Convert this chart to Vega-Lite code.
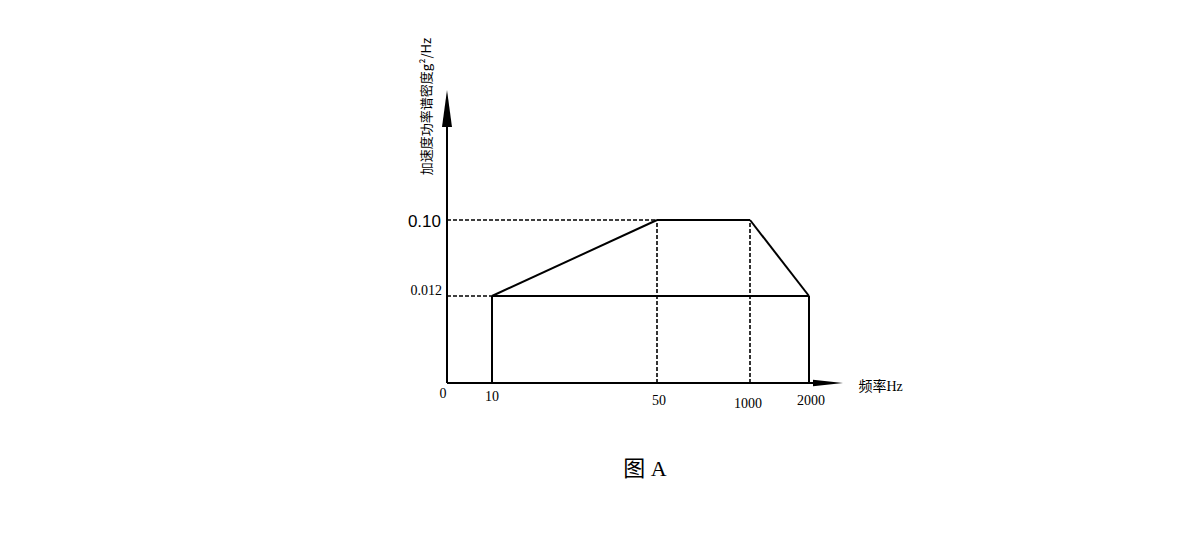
{
  "$schema": "https://vega.github.io/schema/vega-lite/v6.json",
  "width": 396,
  "height": 293,
  "autosize": {"type": "none"},
  "padding": {"left": 447, "top": 90, "right": 357, "bottom": 160},
  "background": "white",
  "config": {"view": {"stroke": null}},
  "title": {"text": "图 A", "orient": "bottom", "offset": 48, "fontSize": 22, "font": "Liberation Serif, Noto Sans CJK SC", "fontWeight": "normal", "color": "#000", "anchor": "middle"},
  "datasets": {
    "segs": [
      {"f": 10, "p": 0, "f2": 10, "p2": 0.012, "role": "profile"},
      {"f": 10, "p": 0.012, "f2": 50, "p2": 0.1, "role": "profile"},
      {"f": 50, "p": 0.1, "f2": 1000, "p2": 0.1, "role": "profile"},
      {"f": 1000, "p": 0.1, "f2": 2000, "p2": 0.012, "role": "profile"},
      {"f": 2000, "p": 0.012, "f2": 2000, "p2": 0, "role": "profile"},
      {"f": 10, "p": 0.012, "f2": 2000, "p2": 0.012, "role": "profile"},
      {"f": 0, "p": 0.1, "f2": 50, "p2": 0.1, "role": "guide"},
      {"f": 0, "p": 0.012, "f2": 10, "p2": 0.012, "role": "guide"},
      {"f": 50, "p": 0, "f2": 50, "p2": 0.1, "role": "guide"},
      {"f": 1000, "p": 0, "f2": 1000, "p2": 0.1, "role": "guide"},
      {"f": 0, "p": 0, "f2": 2100, "p2": 0, "role": "axis"},
      {"f": 0, "p": 0, "f2": 0, "p2": 0.18, "role": "axis"}
    ],
    "arrows": [
      {"f": 2500, "p": 0, "dir": "x"},
      {"f": 0, "p": 0.2, "dir": "y"}
    ],
    "xlabels": [
      {"f": 0, "p": 0, "t": "0"},
      {"f": 10, "p": 0, "t": "10"},
      {"f": 50, "p": 0, "t": "50"},
      {"f": 1000, "p": 0, "t": "1000"},
      {"f": 2000, "p": 0, "t": "2000"}
    ],
    "ylabels": [
      {"f": 0, "p": 0.1, "t": "0.10"},
      {"f": 0, "p": 0.012, "t": "0.012"}
    ]
  },
  "encoding": {
    "x": {
      "field": "f", "type": "quantitative",
      "scale": {"type": "linear", "domain": [0, 10, 50, 1000, 2000, 2500], "range": [0, 45, 210, 303, 362, 396], "clamp": false, "nice": false, "zero": false},
      "axis": {"domain": false, "ticks": false, "labels": false, "grid": false, "title": "频率Hz", "titleX": 411, "titleY": 3, "titleAlign": "left", "titleBaseline": "middle", "titleAngle": 0, "titleFont": "Liberation Serif, Noto Sans CJK SC", "titleFontSize": 14, "titleFontWeight": "normal", "titleColor": "#000"}
    },
    "y": {
      "field": "p", "type": "quantitative",
      "scale": {"type": "linear", "domain": [0, 0.012, 0.1, 0.2], "range": [293, 206, 130, 0], "clamp": false, "nice": false, "zero": false},
      "axis": {"domain": false, "ticks": false, "labels": false, "grid": false, "title": "加速度功率谱密度g²/Hz", "titleX": -21, "titleY": 16, "titleAngle": 270, "titleAlign": "center", "titleBaseline": "middle", "titleFont": "Noto Sans CJK SC", "titleFontSize": 13, "titleFontWeight": "normal", "titleColor": "#000"}
    }
  },
  "layer": [
    {
      "data": {"name": "segs"},
      "transform": [{"filter": "datum.role === 'guide'"}],
      "mark": {"type": "rule", "color": "#000", "strokeWidth": 1.6, "strokeDash": [4, 2]},
      "encoding": {"x2": {"field": "f2"}, "y2": {"field": "p2"}}
    },
    {
      "data": {"name": "segs"},
      "transform": [{"filter": "datum.role !== 'guide'"}],
      "mark": {"type": "rule", "color": "#000", "strokeWidth": 2},
      "encoding": {"x2": {"field": "f2"}, "y2": {"field": "p2"}}
    },
    {
      "data": {"name": "arrows"},
      "transform": [{"filter": "datum.dir === 'y'"}],
      "mark": {"type": "point", "filled": true, "color": "#000", "opacity": 1, "size": 1369, "shape": "M0,0L0.27,2L-0.27,2Z"},
      "encoding": {}
    },
    {
      "data": {"name": "arrows"},
      "transform": [{"filter": "datum.dir === 'x'"}],
      "mark": {"type": "point", "filled": true, "color": "#000", "opacity": 1, "size": 900, "shape": "M0,0L-2,-0.22L-2,0.22Z"},
      "encoding": {}
    },
    {
      "data": {"name": "xlabels"},
      "transform": [{"filter": "datum.f == 0"}],
      "mark": {"type": "text", "font": "Liberation Serif", "fontSize": 14, "color": "#000", "baseline": "middle", "dy": 11, "dx": -4},
      "encoding": {"text": {"field": "t"}}
    },
    {
      "data": {"name": "xlabels"},
      "transform": [{"filter": "datum.f == 10"}],
      "mark": {"type": "text", "font": "Liberation Serif", "fontSize": 14, "color": "#000", "baseline": "middle", "dy": 14, "dx": 0},
      "encoding": {"text": {"field": "t"}}
    },
    {
      "data": {"name": "xlabels"},
      "transform": [{"filter": "datum.f == 50 || datum.f == 2000"}],
      "mark": {"type": "text", "font": "Liberation Serif", "fontSize": 14, "color": "#000", "baseline": "middle", "dy": 18, "dx": 2},
      "encoding": {"text": {"field": "t"}}
    },
    {
      "data": {"name": "xlabels"},
      "transform": [{"filter": "datum.f == 1000"}],
      "mark": {"type": "text", "font": "Liberation Serif", "fontSize": 14, "color": "#000", "baseline": "middle", "dy": 21, "dx": -2},
      "encoding": {"text": {"field": "t"}}
    },
    {
      "data": {"name": "ylabels"},
      "transform": [{"filter": "datum.p == 0.1"}],
      "mark": {"type": "text", "font": "Liberation Sans", "fontSize": 17, "color": "#000", "align": "right", "baseline": "alphabetic", "dx": -6, "dy": 7},
      "encoding": {"text": {"field": "t"}}
    },
    {
      "data": {"name": "ylabels"},
      "transform": [{"filter": "datum.p == 0.012"}],
      "mark": {"type": "text", "font": "Liberation Serif", "fontSize": 14, "color": "#000", "align": "right", "baseline": "alphabetic", "dx": -5, "dy": -1},
      "encoding": {"text": {"field": "t"}}
    }
  ]
}
